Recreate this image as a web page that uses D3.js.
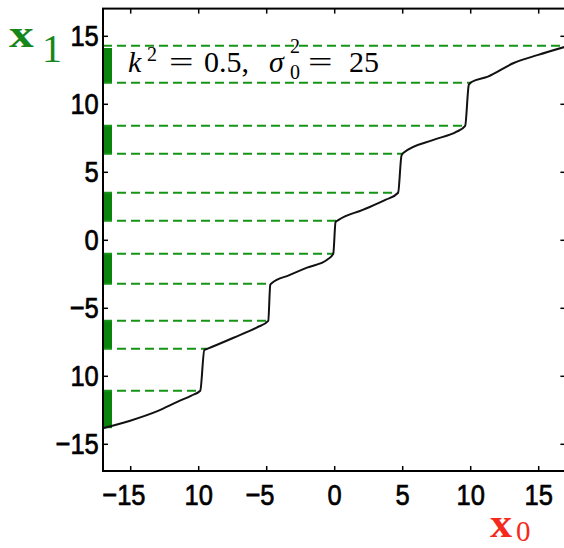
<!DOCTYPE html>
<html>
<head>
<meta charset="utf-8">
<script src="https://cdn.jsdelivr.net/npm/d3@7"></script>
<style>
  html, body { margin: 0; padding: 0; background: #fff; overflow: hidden; }
  svg { display: block; }
</style>
</head>
<body>
<svg id="chart" width="564" height="548"></svg>
<script>
// curve x1 = f(x0)
const curveX0 = [-17, -15, -13, -11.5, -10.5, -9.85, -9.55, -9.3, -7.4, -5.7, -4.85, -4.7, -4.6, -3.3, -2.0, -0.5, -0.07, 0.1, 0.3, 2.1, 3.8, 4.7, 4.95, 5.1, 7.3, 9.0, 9.63, 9.9, 10.1, 11.3, 13.2, 15.0, 17];
const curveX1 = [-13.85, -13.3, -12.6, -11.9, -11.45, -11.1, -8.1, -8.0, -7.2, -6.45, -5.96, -3.3, -3.2, -2.6, -2.05, -1.45, -1.03, 1.3, 1.45, 2.2, 2.95, 3.46, 6.2, 6.4, 7.35, 7.95, 8.38, 11.4, 11.6, 12.0, 13.0, 13.6, 14.2];

// horizontal dashed levels
const levels = [-11.1, -8.01, -5.96, -3.24, -1.03, 1.40, 3.46, 6.32, 8.38, 11.54, 14.26];

// green bars on the x1 axis (ranges of x1)
const bandLo = [-13.85, -8.01, -3.24, 1.40, 6.32, 11.54];
const bandHi = [-11.1, -5.96, -1.03, 3.46, 8.38, 14.1];

const xTicks = [-15, -10, -5, 0, 5, 10, 15];
const xTickLabels = ["\u221215", "10", "\u22125", "0", "5", "10", "15"];
const yTicks = [15, 10, 5, 0, -5, -10, -15];
const yTickLabels = ["15", "10", "5", "0", "\u22125", "10", "\u221215"];

const dims = { left: 103, top: 8.6, size: 462.4, tick: 5, barW: 9 };
const green = "#0a840a";
const dashGreen = "#169416";

const svg = d3.select("#chart");
const x = d3.scaleLinear().domain([-17, 17]).range([dims.left, dims.left + dims.size]);
const y = d3.scaleLinear().domain([-17, 17]).range([dims.top + dims.size, dims.top]);

const curve = curveX0.map((d, i) => [d, curveX1[i]]);

// x0 where the curve first reaches a level
function crossing(level) {
  for (let i = 0; i < curve.length - 1; i++) {
    const [xa, ya] = curve[i], [xb, yb] = curve[i + 1];
    if (level >= ya && level <= yb) {
      return yb === ya ? xa : xa + (xb - xa) * (level - ya) / (yb - ya);
    }
  }
  return x.domain()[1];
}

// green bars
svg.append("g")
  .selectAll("rect")
  .data(bandLo.map((d, i) => [d, bandHi[i]]))
  .join("rect")
  .attr("x", x(-17))
  .attr("width", dims.barW)
  .attr("y", d => y(d[1]))
  .attr("height", d => y(d[0]) - y(d[1]))
  .attr("fill", green);

// dashed levels
svg.append("g")
  .selectAll("line")
  .data(levels)
  .join("line")
  .attr("x1", x(-17))
  .attr("x2", d => x(crossing(d)))
  .attr("y1", d => y(d))
  .attr("y2", d => y(d))
  .attr("stroke", dashGreen)
  .attr("stroke-width", 2)
  .attr("stroke-dasharray", "9,5");

// curve
svg.append("path")
  .datum(curve)
  .attr("fill", "none")
  .attr("stroke", "#111")
  .attr("stroke-width", 2)
  .attr("stroke-linejoin", "round")
  .attr("d", d3.line().x(d => x(d[0])).y(d => y(d[1])).curve(d3.curveMonotoneX));

// axes, matlab style inward ticks
const fontFamily = "'Liberation Sans', Arial, sans-serif";
function styleAxis(g) {
  g.select(".domain").remove();
  g.selectAll("line").attr("stroke", "#000").attr("stroke-width", 1.5);
  g.selectAll("text")
    .attr("fill", "#000")
    .attr("stroke", "#000")
    .attr("stroke-width", 0.7)
    .attr("font-size", 30)
    .attr("font-family", fontFamily)
    .attr("transform", "scale(0.85,1)");
}

svg.append("g")
  .attr("transform", `translate(0,${y(-17)})`)
  .call(d3.axisBottom(x).tickValues(xTicks).tickFormat((d, i) => xTickLabels[i])
    .tickSizeInner(-dims.tick).tickSizeOuter(0).tickPadding(13))
  .call(styleAxis)
  .call(g => g.selectAll("text")
    .attr("dx", (d, i) => xTickLabels[i].startsWith("\u2212") ? -8 : 0));

svg.append("g")
  .attr("transform", `translate(0,${y(17)})`)
  .call(d3.axisTop(x).tickValues(xTicks).tickFormat("")
    .tickSizeInner(-dims.tick).tickSizeOuter(0))
  .call(styleAxis);

svg.append("g")
  .attr("transform", `translate(${x(-17)},0)`)
  .call(d3.axisLeft(y).tickValues(yTicks).tickFormat((d, i) => yTickLabels[i])
    .tickSizeInner(-dims.tick).tickSizeOuter(0).tickPadding(5))
  .call(styleAxis);

svg.append("g")
  .attr("transform", `translate(${x(17)},0)`)
  .call(d3.axisRight(y).tickValues(yTicks).tickFormat("")
    .tickSizeInner(-dims.tick).tickSizeOuter(0))
  .call(styleAxis);

// frame
svg.append("rect")
  .attr("x", x(-17)).attr("y", y(17))
  .attr("width", x(17) - x(-17)).attr("height", y(-17) - y(17))
  .attr("fill", "none").attr("stroke", "#000").attr("stroke-width", 2);

// annotation k^2 = 0.5, sigma_0^2 = 25
const serif = "'Liberation Serif', 'Times New Roman', serif";
const note = svg.append("g").attr("font-family", serif).attr("fill", "#000");
const pieces = [
  { t: "k", x: 128, y: 72, s: 30, it: true },
  { t: "2", x: 147, y: 61, s: 20 },
  { t: "=", x: 169, y: 72, s: 30, sx: 1.45 },
  { t: "0.5,", x: 204, y: 72, s: 30 },
  { t: "\u03c3", x: 269, y: 72, s: 30, it: true },
  { t: "2", x: 290, y: 53, s: 20 },
  { t: "0", x: 290, y: 79, s: 20 },
  { t: "=", x: 308, y: 72, s: 30, sx: 1.45 },
  { t: "25", x: 349, y: 72, s: 30 },
];
note.selectAll("text")
  .data(pieces)
  .join("text")
  .attr("transform", d => `translate(${d.x},${d.y}) scale(${d.sx || 1},1)`)
  .attr("font-size", d => d.s)
  .attr("font-style", d => d.it ? "italic" : null)
  .text(d => d.t);

// axis names
const x1Label = svg.append("g").attr("fill", "#15871a").attr("font-family", serif);
x1Label.append("text")
  .attr("transform", "translate(9,47) scale(1.3,1)")
  .attr("font-size", 38).attr("font-weight", "bold").text("x");
x1Label.append("text")
  .attr("x", 42).attr("y", 62)
  .attr("font-size", 40).text("1");

const x0Label = svg.append("g").attr("fill", "#f5291c").attr("font-family", serif);
x0Label.append("text")
  .attr("transform", "translate(490,537) scale(1.05,1)")
  .attr("font-size", 42).attr("font-weight", "bold").text("x");
x0Label.append("text")
  .attr("x", 516).attr("y", 541)
  .attr("font-size", 29).text("0");
</script>
</body>
</html>
